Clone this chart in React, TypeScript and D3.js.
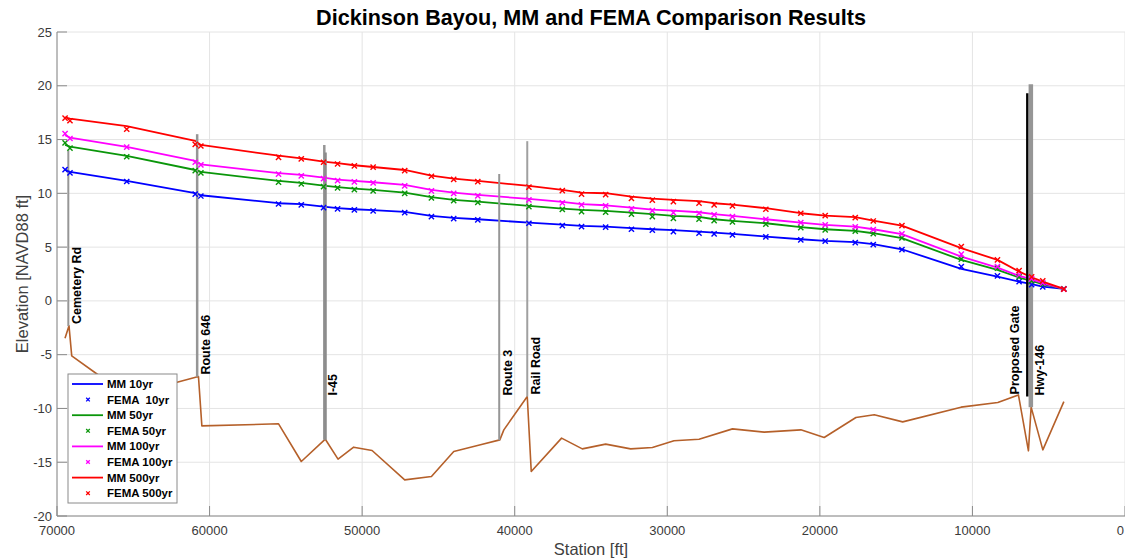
import React from "react";
import * as d3 from "d3";

// ---------- data ----------
const stations = [69470, 69150, 65430, 60940, 60570, 55480, 53990, 52530, 51610, 50510, 49280, 47210, 45460, 44000, 42420, 39070, 36880, 35620, 34040, 32350, 30980, 29600, 27920, 26930, 25730, 23540, 21250, 19650, 17680, 16500, 14620, 10730, 8360, 6940, 6120, 5390, 4010];

const mm10 = [12.2, 11.99, 11.15, 10.01, 9.82, 9.08, 8.99, 8.76, 8.62, 8.52, 8.43, 8.27, 7.9, 7.71, 7.59, 7.28, 7.09, 6.97, 6.91, 6.76, 6.66, 6.57, 6.44, 6.35, 6.23, 5.98, 5.73, 5.58, 5.46, 5.27, 4.8, 2.97, 2.26, 1.79, 1.55, 1.33, 1.12];
const fema10 = [12.2, 11.9, 11.1, 9.92, 9.75, 9.01, 8.92, 8.67, 8.55, 8.46, 8.36, 8.21, 7.84, 7.65, 7.53, 7.22, 7.0, 6.91, 6.85, 6.66, 6.57, 6.44, 6.29, 6.23, 6.13, 5.95, 5.67, 5.55, 5.42, 5.23, 4.77, 3.19, 2.32, 1.79, 1.52, 1.3, 1.12];
const mm50 = [14.5, 14.34, 13.48, 12.17, 11.99, 11.15, 10.97, 10.72, 10.57, 10.44, 10.32, 10.07, 9.64, 9.39, 9.23, 8.83, 8.58, 8.46, 8.36, 8.21, 8.06, 7.9, 7.81, 7.59, 7.43, 7.22, 6.85, 6.66, 6.51, 6.29, 5.83, 3.81, 2.88, 2.17, 1.86, 1.55, 1.12];
const fema50 = [14.7, 14.2, 13.4, 12.11, 11.9, 11.03, 10.87, 10.62, 10.5, 10.34, 10.22, 9.99, 9.57, 9.32, 9.15, 8.76, 8.5, 8.3, 8.24, 8.06, 7.84, 7.68, 7.59, 7.46, 7.34, 7.13, 6.81, 6.6, 6.48, 6.25, 5.85, 3.88, 3.04, 2.23, 1.86, 1.55, 1.12];
const mm100 = [15.4, 15.18, 14.31, 13.01, 12.7, 11.87, 11.71, 11.46, 11.27, 11.15, 11.03, 10.78, 10.32, 10.07, 9.85, 9.48, 9.2, 8.99, 8.89, 8.67, 8.49, 8.39, 8.24, 8.06, 7.9, 7.59, 7.28, 7.06, 6.91, 6.66, 6.2, 4.12, 3.09, 2.32, 2.02, 1.64, 1.12];
const fema100 = [15.55, 15.1, 14.3, 12.89, 12.65, 11.78, 11.62, 11.37, 11.18, 11.06, 10.97, 10.69, 10.22, 9.99, 9.76, 9.39, 9.11, 8.92, 8.83, 8.55, 8.39, 8.21, 8.15, 7.99, 7.84, 7.59, 7.28, 7.06, 6.88, 6.63, 6.23, 4.34, 3.19, 2.42, 2.05, 1.67, 1.09];
const mm500 = [17.07, 16.94, 16.24, 14.87, 14.5, 13.5, 13.26, 12.95, 12.8, 12.61, 12.45, 12.17, 11.64, 11.37, 11.15, 10.69, 10.32, 10.07, 10.01, 9.69, 9.51, 9.39, 9.27, 9.08, 8.95, 8.62, 8.15, 7.93, 7.78, 7.46, 7.0, 4.9, 3.81, 2.72, 2.2, 1.79, 1.12];
const fema500 = [17.0, 16.75, 15.96, 14.56, 14.4, 13.35, 13.2, 12.89, 12.73, 12.55, 12.43, 12.11, 11.59, 11.29, 11.09, 10.57, 10.25, 9.92, 9.88, 9.54, 9.36, 9.23, 9.08, 8.92, 8.83, 8.52, 8.15, 7.93, 7.74, 7.43, 7.0, 5.05, 3.81, 2.82, 2.23, 1.86, 1.09];

const groundStations = [69475, 69213, 69035, 67290, 64550, 62190, 60728, 60505, 55478, 53989, 52414, 51580, 50556, 49349, 47210, 45458, 43995, 42243, 40976, 40713, 39178, 38916, 36928, 35570, 34040, 32400, 30976, 29558, 27918, 25726, 23653, 21245, 19716, 17636, 16434, 14571, 10745, 8336, 6985, 6329, 6152, 5385, 4007];
const groundElev = [-3.47, -2.32, -5.11, -6.89, -8.0, -7.59, -7.03, -11.62, -11.43, -14.93, -12.86, -14.71, -13.6, -13.91, -16.64, -16.33, -14.0, -13.38, -12.92, -11.99, -8.89, -15.86, -12.76, -13.76, -13.32, -13.76, -13.63, -13.01, -12.86, -11.9, -12.2, -11.99, -12.7, -10.84, -10.59, -11.25, -9.88, -9.45, -8.74, -13.94, -9.88, -13.85, -9.36];

const bridgeNames = ["Cemetery Rd", "Route 646", "I-45", "I-45 (2)", "Route 3", "Rail Road", "Proposed Gate", "Hwy-146"];
const bridgeStations = [69258, 60813, 52480, 52400, 41016, 39178, 6401, 6171];
const bridgeTops = [14.0, 15.5, 14.5, 13.8, 11.8, 14.85, 19.3, 20.15];
const bridgeBottoms = [-2.35, -7.05, -12.9, -12.9, -12.95, -8.9, -8.9, -9.9];

const xTicks = [70000, 60000, 50000, 40000, 30000, 20000, 10000, 0];
const yTicks = [-20, -15, -10, -5, 0, 5, 10, 15, 20, 25];

const mmSeries = [mm10, mm50, mm100, mm500];
const femaSeries = [fema10, fema50, fema100, fema500];
const legendLabels = ["MM 10yr", "FEMA  10yr", "MM 50yr", "FEMA 50yr", "MM 100yr", "FEMA 100yr", "MM 500yr", "FEMA 500yr"];

// ---------- styles ----------
const W = 1125;
const H = 560;
const FONT = "'Liberation Sans', Arial, Helvetica, sans-serif";
const seriesColors = ["#0000ff", "#0a960a", "#ff00ff", "#ff0000"];
const groundColor = "#b5602a";
const bridgeStyle: Record<string, { color: string; width: number; label?: string; side: number }> = {
  "Cemetery Rd": { color: "#969696", width: 2, label: "Cemetery Rd", side: 1 },
  "Route 646": { color: "#969696", width: 2.5, label: "Route 646", side: 1 },
  "I-45": { color: "#969696", width: 2.5, label: "I-45", side: 1 },
  "I-45 (2)": { color: "#8c8c8c", width: 2.5, side: 1 },
  "Route 3": { color: "#969696", width: 2, label: "Route 3", side: 1 },
  "Rail Road": { color: "#a0a0a0", width: 2, label: "Rail Road", side: 1 },
  "Proposed Gate": { color: "#000000", width: 2.5, label: "Proposed Gate", side: -1 },
  "Hwy-146": { color: "#969696", width: 4.5, label: "Hwy-146", side: 1 },
};

export default function App() {
  const x = d3.scaleLinear().domain([70000, 0]).range([57, 1125]);
  const y = d3.scaleLinear().domain([-20, 25]).range([516, 32]);
  const left = 57, right = 1125, top = 32, bottom = 516;

  const line = d3
    .line<[number, number]>()
    .x((d) => x(d[0]))
    .y((d) => y(d[1]));

  const groundPath = line(groundStations.map((s, i) => [s, groundElev[i]]) as [number, number][]) || "";

  const xMark = (cx: number, cy: number, r: number, color: string, sw: number, key: string) => (
    <path
      key={key}
      d={`M${cx - r},${cy - r}L${cx + r},${cy + r}M${cx - r},${cy + r}L${cx + r},${cy - r}`}
      stroke={color}
      strokeWidth={sw}
      fill="none"
    />
  );

  const legendX = 68, legendY = 374, legendW = 109, legendH = 129;
  const rowH = 15.6;

  return (
    <div style={{ position: "absolute", left: 0, top: 0 }}>
      <svg width={W} height={H} style={{ display: "block", background: "#fff" }} fontFamily={FONT}>
        <rect x={0} y={0} width={W} height={H} fill="#fff" />
        {/* grid */}
        {xTicks.map((t) => (
          <line key={"gx" + t} x1={x(t)} x2={x(t)} y1={top} y2={bottom} stroke="#e4e4e4" strokeWidth={1} />
        ))}
        {yTicks.map((t) => (
          <line key={"gy" + t} x1={left} x2={right} y1={y(t)} y2={y(t)} stroke="#e4e4e4" strokeWidth={1} />
        ))}

        {/* ground */}
        <path d={groundPath} fill="none" stroke={groundColor} strokeWidth={1.6} strokeLinejoin="round" />

        {/* MM lines */}
        {mmSeries.map((vals, si) => (
          <path
            key={"mm" + si}
            d={line(stations.map((s, i) => [s, vals[i]]) as [number, number][]) || ""}
            fill="none"
            stroke={seriesColors[si]}
            strokeWidth={1.8}
            strokeLinejoin="round"
          />
        ))}

        {/* bridges */}
        {bridgeNames.map((n, i) => {
          const st = bridgeStyle[n];
          return (
            <line
              key={"br" + i}
              x1={x(bridgeStations[i])}
              x2={x(bridgeStations[i])}
              y1={y(bridgeTops[i])}
              y2={y(bridgeBottoms[i])}
              stroke={st.color}
              strokeWidth={st.width}
            />
          );
        })}

        {/* FEMA markers */}
        {femaSeries.map((vals, si) =>
          stations.map((s, i) => xMark(x(s), y(vals[i]), 2.6, seriesColors[si], 1.4, `fm${si}-${i}`))
        )}

        {/* bridge labels */}
        {bridgeNames.map((n, i) => {
          const st = bridgeStyle[n];
          if (!st.label) return null;
          const lx = x(bridgeStations[i]) + (st.side > 0 ? 13 : -8);
          const ly = y(Math.max(bridgeBottoms[i], -9) + 0.2);
          return (
            <text
              key={"bl" + i}
              transform={`translate(${lx},${ly}) rotate(-90)`}
              fontSize={12.5}
              fontWeight="bold"
              fill="#000"
            >
              {st.label}
            </text>
          );
        })}

        {/* axes */}
        <line x1={left} x2={right} y1={bottom} y2={bottom} stroke="#8a8a8a" strokeWidth={1} />
        <line x1={left} x2={left} y1={top} y2={bottom} stroke="#8a8a8a" strokeWidth={1} />
        {xTicks.map((t) => {
          const tx = x(t);
          const atEdge = tx > W - 5;
          return (
            <g key={"xt" + t}>
              <line x1={tx} x2={tx} y1={bottom} y2={bottom - 10} stroke="#8a8a8a" strokeWidth={1} />
              <text
                x={atEdge ? W - 1 : tx}
                y={534.5}
                textAnchor={atEdge ? "end" : "middle"}
                fontSize={13}
                fill="#3a3a3a"
              >
                {t}
              </text>
            </g>
          );
        })}
        {yTicks.map((t) => (
          <g key={"yt" + t}>
            <line x1={left} x2={left + 10} y1={y(t)} y2={y(t)} stroke="#8a8a8a" strokeWidth={1} />
            <text x={52} y={y(t) + 4.5} textAnchor="end" fontSize={13} fill="#3a3a3a">
              {t}
            </text>
          </g>
        ))}

        {/* axis labels */}
        <text x={(left + right) / 2} y={555} textAnchor="middle" fontSize={16.5} fill="#404040">
          Station [ft]
        </text>
        <text
          transform={`translate(28,${(top + bottom) / 2}) rotate(-90)`}
          textAnchor="middle"
          fontSize={16.5}
          fill="#404040"
        >
          Elevation [NAVD88 ft]
        </text>

        {/* title */}
        <text x={(left + right) / 2} y={25} textAnchor="middle" fontSize={21.6} fontWeight="bold" fill="#000">
          Dickinson Bayou, MM and FEMA Comparison Results
        </text>

        {/* legend */}
        <rect x={legendX} y={legendY} width={legendW} height={legendH} fill="#fff" stroke="#8a8a8a" strokeWidth={1} />
        {legendLabels.map((lab, i) => {
          const cy = legendY + 10 + i * rowH;
          const si = Math.floor(i / 2);
          const isLine = i % 2 === 0;
          return (
            <g key={"lg" + i}>
              {isLine ? (
                <line x1={72} x2={103} y1={cy} y2={cy} stroke={seriesColors[si]} strokeWidth={1.8} />
              ) : (
                xMark(88, cy, 1.8, seriesColors[si], 1.3, "lm" + i)
              )}
              <text x={107} y={cy + 4} fontSize={11.5} fontWeight="bold" fill="#000" style={{ whiteSpace: "pre" }}>
                {lab}
              </text>
            </g>
          );
        })}
      </svg>
    </div>
  );
}
